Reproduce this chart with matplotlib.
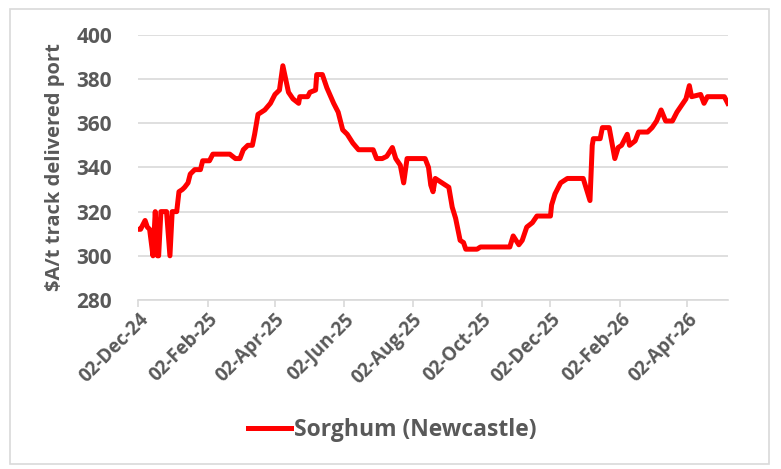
import datetime as dt
import matplotlib
matplotlib.use("Agg")
import matplotlib.pyplot as plt
import matplotlib.dates as mdates
from matplotlib.patches import Rectangle

# Sorghum (Newcastle) price, $A/t track delivered port
# days after 02-Dec-24
start = dt.date(2024, 12, 2)
days = [0, 2, 6, 8, 10, 13, 15, 17, 18, 20, 25, 28, 30, 34, 36, 39, 41, 44, 46,
        50, 55, 57, 63, 66, 81, 86, 90, 93, 97, 101, 103, 106, 112, 117, 121,
        125, 128, 133, 137, 142, 143, 150, 152, 157, 158, 163, 167, 173, 177,
        181, 185, 190, 195, 204, 208, 211, 216, 220, 225, 228, 232, 235, 238,
        251, 254, 257, 259, 261, 263, 269, 275, 278, 281, 285, 288, 290, 300,
        303, 312, 329, 332, 337, 340, 344, 349, 353, 365, 366, 369, 374, 380,
        394, 400, 402, 403, 409, 411, 417, 422, 425, 428, 433, 435, 440, 443,
        451, 455, 459, 463, 467, 473, 477, 485, 488, 490, 498, 501, 504, 508,
        519, 522]
price = [312, 312, 316, 313, 312, 300, 320, 300, 300, 320, 320, 300, 320, 320,
         329, 330, 331, 333, 337, 339, 339, 343, 343, 346, 346, 344, 344, 348,
         350, 350, 355, 364, 366, 369, 373, 375, 386, 374, 371, 369, 372, 372,
         374, 375, 382, 382, 376, 369, 365, 357, 355, 351, 348, 348, 348, 344,
         344, 345, 349, 344, 341, 333, 344, 344, 344, 340, 332, 329, 335, 333,
         331, 322, 317, 307, 306, 303, 303, 304, 304, 304, 309, 305, 307, 313,
         315, 318, 318, 323, 328, 333, 335, 335, 325, 350, 353, 353, 358, 358,
         344, 349, 350, 355, 350, 352, 356, 356, 358, 361, 366, 361, 361, 365,
         371, 377, 372, 373, 369, 372, 372, 372, 369]
dates = [start + dt.timedelta(days=d) for d in days]

y_ticks = [280, 300, 320, 340, 360, 380, 400]
x_ticks = [dt.date(2024, 12, 2), dt.date(2025, 2, 2), dt.date(2025, 4, 2),
           dt.date(2025, 6, 2), dt.date(2025, 8, 2), dt.date(2025, 10, 2),
           dt.date(2025, 12, 2), dt.date(2026, 2, 2), dt.date(2026, 4, 2)]

grey = "#595959"
grid = "#D9D9D9"
plt.rcParams["font.family"] = ["Open Sans", "DejaVu Sans"]

fig = plt.figure(figsize=(7.81, 4.69), dpi=100)
ax = fig.add_axes([0.1771, 0.3603, 0.7547, 0.5655])

ax.plot(dates, price, color="#FF0000", lw=3.6, solid_joinstyle="round",
        label="Sorghum (Newcastle)")

ax.set_ylim(280, 400)
ax.set_yticks(y_ticks)
ax.set_xlim(dates[0], dates[-1])
ax.set_xticks(x_ticks)
ax.xaxis.set_major_formatter(mdates.DateFormatter("%d-%b-%y"))

ax.grid(axis="y", color=grid, lw=1.2)
ax.set_axisbelow(True)
for s in ["top", "right", "left"]:
    ax.spines[s].set_visible(False)
ax.spines["bottom"].set_color(grid)
ax.spines["bottom"].set_linewidth(1.2)
ax.tick_params(axis="y", length=0, pad=19, labelsize=15, labelcolor=grey)
ax.tick_params(axis="x", length=5, width=1.2, color=grid, labelsize=13.5,
               labelcolor=grey, pad=2)
for lab in ax.get_yticklabels():
    lab.set_fontweight("bold")
for lab in ax.get_xticklabels():
    lab.set_fontweight("bold")
    lab.set_rotation(45)
    lab.set_ha("right")
    lab.set_rotation_mode("anchor")

ax.set_ylabel("$A/t track delivered port", fontsize=14.5, fontweight="bold",
              color=grey, labelpad=8)

leg = fig.legend(loc="center", bbox_to_anchor=(0.502, 0.083), frameon=False,
                 prop={"size": 16.5, "weight": "bold"}, handlelength=1.9,
                 handletextpad=0.1)
for t in leg.get_texts():
    t.set_color(grey)

fig.patches.append(Rectangle((10 / 781, 1 - 464 / 469), 759 / 781, 454.5 / 469,
                             transform=fig.transFigure, fill=False,
                             edgecolor=grid, lw=1.2))

fig.savefig("out.png", dpi=100)
